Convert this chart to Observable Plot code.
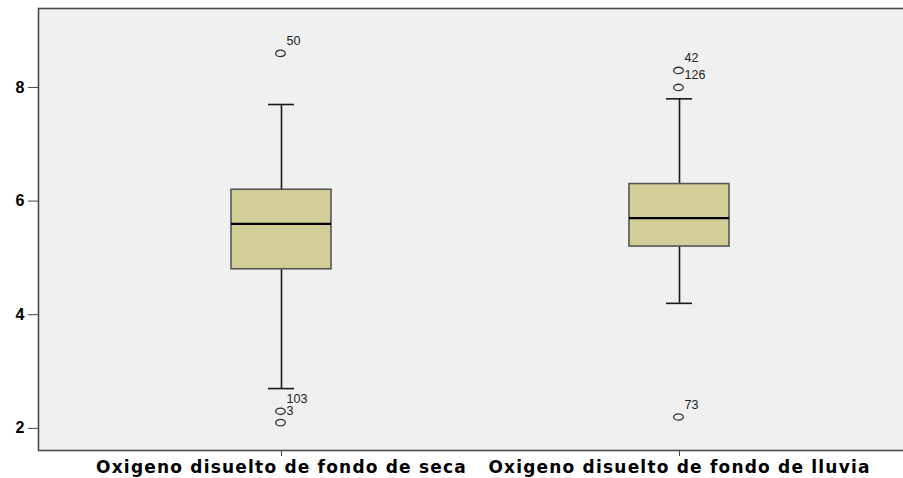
<!DOCTYPE html>
<html>
<head>
<meta charset="utf-8">
<script src="https://cdn.jsdelivr.net/npm/d3@7"></script>
<script src="https://cdn.jsdelivr.net/npm/@observablehq/plot@0.6"></script>
<style>
  html, body { margin: 0; padding: 0; background: #fff; overflow: hidden; }
  #chart svg { display: block; max-width: none !important; }
</style>
</head>
<body>
<div id="chart"></div>
<script>
const categories = ["Oxigeno disuelto de fondo de seca", "Oxigeno disuelto de fondo de lluvia"];
const q1 = [4.8, 5.2];
const median = [5.6, 5.7];
const q3 = [6.2, 6.3];
const whiskerLow = [2.7, 4.2];
const whiskerHigh = [7.7, 7.8];
const outlierCategory = [0, 0, 0, 1, 1, 1];
const outlierValue = [8.6, 2.3, 2.1, 8.3, 8.0, 2.2];
const outlierLabel = ["50", "103", "3", "42", "126", "73"];
const yTicks = [2, 4, 6, 8];

const boxes = categories.map((c, i) => ({
  cat: c, q1: q1[i], med: median[i], q3: q3[i], lo: whiskerLow[i], hi: whiskerHigh[i]
}));
const outliers = outlierValue.map((v, i) => ({
  cat: categories[outlierCategory[i]], v, label: outlierLabel[i]
}));

const ellipse = {
  draw(ctx) {
    const rx = 4.8, ry = 3.2, k = 0.5523;
    ctx.moveTo(rx, 0);
    ctx.bezierCurveTo(rx, ry * k, rx * k, ry, 0, ry);
    ctx.bezierCurveTo(-rx * k, ry, -rx, ry * k, -rx, 0);
    ctx.bezierCurveTo(-rx, -ry * k, -rx * k, -ry, 0, -ry);
    ctx.bezierCurveTo(rx * k, -ry, rx, -ry * k, rx, 0);
    ctx.closePath();
  }
};

const chart = Plot.plot({
  width: 910,
  height: 478,
  marginLeft: 38,
  marginRight: 0,
  marginTop: 8,
  marginBottom: 28,
  style: { background: "#fff", fontFamily: "'Liberation Sans', Arial, sans-serif", maxWidth: "none" },
  x: { type: "band", domain: categories, range: [82, 878], padding: 0, label: null },
  y: { domain: [1.61, 9.39], ticks: yTicks, label: null },
  marks: [
    Plot.frame({ fill: "#f0f0f0", stroke: "#4a4a4a", strokeWidth: 1.6 }),
    Plot.axisY({ ticks: yTicks, tickSize: 10, tickPadding: 4, fontSize: 16, fontWeight: "bold", stroke: "#444", fill: "#000", label: null }),
    Plot.axisX({ tickSize: 6, tickPadding: 4, fontSize: 17, fontWeight: "bold", stroke: "#444", fill: "#000", label: null,
      fontFamily: "'DejaVu Sans', sans-serif" }),
    Plot.ruleX(boxes, { x: "cat", y1: "q3", y2: "hi", stroke: "#1a1a1a", strokeWidth: 1.6 }),
    Plot.ruleX(boxes, { x: "cat", y1: "lo", y2: "q1", stroke: "#1a1a1a", strokeWidth: 1.6 }),
    Plot.tickY(boxes, { x: "cat", y: "hi", insetLeft: 186, insetRight: 186, stroke: "#1a1a1a", strokeWidth: 1.6 }),
    Plot.tickY(boxes, { x: "cat", y: "lo", insetLeft: 186, insetRight: 186, stroke: "#1a1a1a", strokeWidth: 1.6 }),
    Plot.barY(boxes, { x: "cat", y1: "q1", y2: "q3", insetLeft: 149, insetRight: 149, fill: "#d3ce97", stroke: "#555", strokeWidth: 1.6 }),
    Plot.tickY(boxes, { x: "cat", y: "med", insetLeft: 149, insetRight: 149, stroke: "#000", strokeWidth: 2.2 }),
    Plot.dot(outliers, { x: "cat", y: "v", symbol: ellipse, r: 4, stroke: "#333", strokeWidth: 1.3, fill: "none", dx: -1 }),
    Plot.text(outliers, { x: "cat", y: "v", text: "label", dx: 5, dy: -12, textAnchor: "start", fontSize: 12.5, fill: "#222" })
  ]
});
chart.style.maxWidth = "none";
chart.querySelectorAll("g[aria-label='x-axis tick label'] text").forEach(t => t.setAttribute("letter-spacing", "1.2"));
document.getElementById("chart").appendChild(chart);
</script>
</body>
</html>
